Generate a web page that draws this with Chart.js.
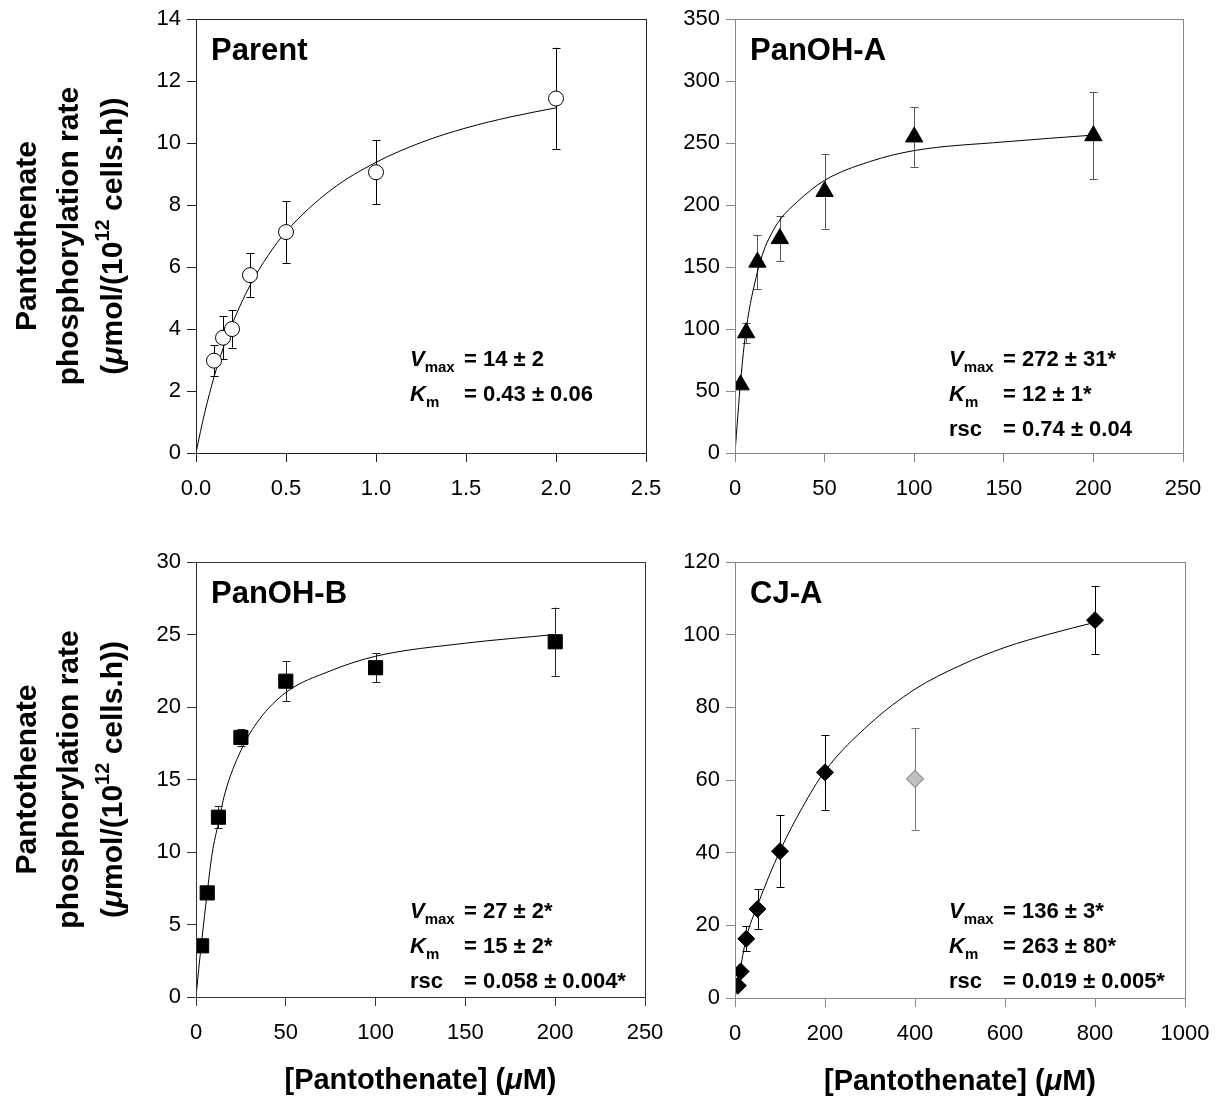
<!DOCTYPE html>
<html>
<head>
<meta charset="utf-8">
<script src="https://cdn.jsdelivr.net/npm/chart.js@4.4.1/dist/chart.umd.min.js"></script>
<style>
  body { margin: 0; background: #fff; }
  #figure { position: relative; width: 1225px; height: 1106px; }
  .panel { position: absolute; }
</style>
</head>
<body>
<div id="figure">
  <div class="panel" style="left:0;top:0;width:680px;height:530px"><canvas id="parentChart"></canvas></div>
  <div class="panel" style="left:680px;top:0;width:545px;height:530px"><canvas id="panOHAChart"></canvas></div>
  <div class="panel" style="left:0;top:530px;width:680px;height:576px"><canvas id="panOHBChart"></canvas></div>
  <div class="panel" style="left:680px;top:530px;width:545px;height:576px"><canvas id="cjAChart"></canvas></div>
</div>
<script>
// Parent
const parentConc = [0.1, 0.15, 0.2, 0.3, 0.5, 1.0, 2.0];
const parentRate = [2.98, 3.72, 4.0, 5.74, 7.13, 9.06, 11.44];
const parentErr = [0.5, 0.7, 0.6, 0.7, 1.0, 1.03, 1.64];
const parentFitConc = [0, 0.025, 0.05, 0.1, 0.15, 0.2, 0.3, 0.4, 0.5, 0.75, 1.0, 1.25, 1.5, 1.75, 2.0];
const parentFitRate = [0, 0.7, 1.34, 2.45, 3.37, 4.15, 5.41, 6.37, 7.14, 8.49, 9.38, 10.02, 10.49, 10.85, 11.14];
const parentXTicks = [0, 0.5, 1.0, 1.5, 2.0, 2.5];
const parentYTicks = [0, 2, 4, 6, 8, 10, 12, 14];

// PanOH-A
const panOHAConc = [3.125, 6.25, 12.5, 25, 50, 100, 200];
const panOHARate = [55, 97, 154, 173, 211, 255, 256];
const panOHAErr = [0, 8, 22, 18, 30, 24, 35];
const panOHAFitConc = [0, 3.125, 6.25, 12.5, 16, 20, 25, 35, 50, 75, 100, 150, 200];
const panOHAFitRate = [0, 58, 100, 146, 163, 176, 188, 203, 220, 235, 244, 251, 256.5];
const panOHAXTicks = [0, 50, 100, 150, 200, 250];
const panOHAYTicks = [0, 50, 100, 150, 200, 250, 300, 350];

// PanOH-B
const panOHBConc = [3.125, 6.25, 12.5, 25, 50, 100, 200];
const panOHBRate = [3.53, 7.18, 12.4, 17.9, 21.78, 22.71, 24.5];
const panOHBErr = [0, 0, 0.76, 0.57, 1.38, 0.99, 2.36];
const panOHBFitConc = [0, 1.5, 3.125, 6.25, 9, 12.5, 16, 25, 35, 50, 75, 100, 150, 200];
const panOHBFitRate = [0, 1.9, 3.8, 7.2, 9.9, 12.0, 14.0, 17.0, 19.1, 21.0, 22.5, 23.5, 24.4, 25.0];
const panOHBXTicks = [0, 50, 100, 150, 200, 250];
const panOHBYTicks = [0, 5, 10, 15, 20, 25, 30];

// CJ-A (the 400 uM point is the grey outlier)
const cjAConc = [6.25, 12.5, 25, 50, 100, 200, 400, 800];
const cjARate = [3.4, 7.3, 16.3, 24.5, 40.4, 62.1, 60.3, 104];
const cjAErr = [0, 0, 3.5, 5.5, 9.9, 10.3, 14, 9.4];
const cjAFitConc = [0, 6.25, 12.5, 25, 50, 100, 150, 200, 300, 400, 500, 600, 700, 800];
const cjAFitRate = [0, 4.3, 8.5, 16.5, 25.5, 40.5, 52.5, 62.5, 75.5, 85, 91.5, 96.5, 100.2, 103.4];
const cjAXTicks = [0, 200, 400, 600, 800, 1000];
const cjAYTicks = [0, 20, 40, 60, 80, 100, 120];

const FONT = "'Liberation Sans', Arial, sans-serif";
const B22 = 'bold 22px ' + FONT;
const BI22 = 'italic bold 22px ' + FONT;
const B15 = 'bold 15px ' + FONT;
const B30 = 'bold 30px ' + FONT;

const vRow = value => [[['V', BI22], ['max', B15, 6]], value];
const kRow = value => [[['K', BI22], ['m', B15, 6]], value];
const rRow = value => [[['rsc', B22]], value];

function drawRuns(ctx, x, y, runs, align) {
    let w = 0;
    runs.forEach(r => { ctx.font = r[1]; w += ctx.measureText(r[0]).width; });
    let cx = align === 'center' ? x - w / 2 : x;
    runs.forEach(r => {
        ctx.font = r[1];
        ctx.fillText(r[0], cx, y + (r[2] || 0));
        cx += ctx.measureText(r[0]).width;
    });
}

function decorPlugin(p) {
    return {
        id: 'decor',
        beforeDatasetsDraw(chart) {
            const { ctx, scales: { x, y } } = chart;
            ctx.save();
            ctx.lineWidth = 1;
            p.conc.forEach((c, i) => {
                const e = p.err[i];
                if (!e) return;
                const px = Math.round(x.getPixelForValue(c)) + 0.5;
                const top = y.getPixelForValue(p.rate[i] + e);
                const bot = y.getPixelForValue(p.rate[i] - e);
                ctx.strokeStyle = Array.isArray(p.errColor) ? p.errColor[i] : p.errColor;
                ctx.beginPath();
                ctx.moveTo(px, top);
                ctx.lineTo(px, bot);
                ctx.moveTo(px - 4, Math.round(top) + 0.5);
                ctx.lineTo(px + 4, Math.round(top) + 0.5);
                ctx.moveTo(px - 4, Math.round(bot) + 0.5);
                ctx.lineTo(px + 4, Math.round(bot) + 0.5);
                ctx.stroke();
            });
            ctx.restore();
        },
        afterDraw(chart) {
            const { ctx, chartArea: a } = chart;
            ctx.save();
            // frame
            ctx.strokeStyle = p.frame;
            ctx.lineWidth = 1;
            ctx.strokeRect(Math.round(a.left) + 0.5, Math.round(a.top) + 0.5,
                Math.round(a.right - a.left), Math.round(a.bottom - a.top));
            ctx.fillStyle = '#000';
            // panel name
            ctx.textBaseline = 'middle';
            ctx.font = 'bold 31px ' + FONT;
            ctx.fillText(p.name, a.left + 15, a.top + 32);
            // fit parameters
            ctx.textBaseline = 'alphabetic';
            p.stats.forEach((row, i) => {
                const by = a.top + p.statTop + i * 35;
                drawRuns(ctx, a.left + 214, by, row[0], 'left');
                ctx.font = B22;
                ctx.fillText(row[1], a.left + 268, by);
            });
            // y axis title
            if (p.yTitle) {
                const cy = (a.top + a.bottom) / 2;
                const lines = [
                    [[['Pantothenate', B30]], 28],
                    [[['phosphorylation rate', B30]], 70],
                    [[['(', B30], ['\u03bc', 'italic bold 30px ' + FONT],
                      ['mol/(10', B30], ['12', 'bold 20px ' + FONT, -11],
                      [' cells.h))', B30]], 114]
                ];
                lines.forEach(l => {
                    ctx.save();
                    ctx.translate(l[1], cy);
                    ctx.rotate(-Math.PI / 2);
                    ctx.textBaseline = 'middle';
                    drawRuns(ctx, 0, 0, l[0], 'center');
                    ctx.restore();
                });
            }
            // x axis title
            if (p.xTitle) {
                ctx.textBaseline = 'middle';
                drawRuns(ctx, (a.left + a.right) / 2, a.bottom + 84, [
                    ['[Pantothenate] (', 'bold 29px ' + FONT],
                    ['\u03bc', 'italic bold 29px ' + FONT],
                    ['M)', 'bold 29px ' + FONT]
                ], 'center');
            }
            ctx.restore();
        }
    };
}

function buildPanel(id, p) {
    const tickAxis = (ticks, fmt, fitFn, pad) => ({
        type: 'linear',
        min: ticks[0],
        max: ticks[ticks.length - 1],
        afterBuildTicks: s => { s.ticks = ticks.map(v => ({ value: v })); },
        afterFit: fitFn,
        border: { display: false },
        grid: { drawOnChartArea: false, drawTicks: true, tickLength: 9, tickColor: p.frame, color: p.frame },
        ticks: {
            color: '#000',
            font: { family: FONT, size: 22 },
            padding: pad,
            maxRotation: 0,
            autoSkip: false,
            callback: fmt
        }
    });
    return new Chart(document.getElementById(id), {
        type: 'scatter',
        data: {
            datasets: [
                {
                    data: p.conc.map((c, i) => ({ x: c, y: p.rate[i] })),
                    pointStyle: p.marker,
                    pointRadius: p.radius,
                    pointBackgroundColor: p.fill,
                    pointBorderColor: p.stroke,
                    pointBorderWidth: 1,
                    showLine: false
                },
                {
                    data: p.fitConc.map((c, i) => ({ x: c, y: p.fitRate[i] })),
                    showLine: true,
                    pointRadius: 0,
                    borderColor: '#000',
                    borderWidth: 1,
                    cubicInterpolationMode: 'monotone'
                }
            ]
        },
        options: {
            responsive: true,
            maintainAspectRatio: false,
            animation: false,
            events: [],
            layout: { padding: { left: 0, top: p.area[1], right: p.size[0] - p.area[2], bottom: 0 } },
            plugins: { legend: { display: false }, tooltip: { enabled: false } },
            scales: {
                x: tickAxis(p.xTicks, p.xFmt, s => { s.height = p.size[1] - p.area[3]; }, 14),
                y: tickAxis(p.yTicks, v => String(v), s => { s.width = p.area[0]; }, 6)
            }
        },
        plugins: [decorPlugin(p)]
    });
}

buildPanel('parentChart', {
    conc: parentConc, rate: parentRate, err: parentErr,
    fitConc: parentFitConc, fitRate: parentFitRate,
    xTicks: parentXTicks, yTicks: parentYTicks,
    xFmt: v => v.toFixed(1),
    size: [680, 530], area: [196, 19, 646, 453],
    marker: 'circle', radius: 7.5, fill: '#fff', stroke: '#000',
    errColor: '#000', frame: '#222',
    name: 'Parent', statTop: 347,
    stats: [vRow('= 14 \u00b1 2'), kRow('= 0.43 \u00b1 0.06')],
    yTitle: true, xTitle: false
});

buildPanel('panOHAChart', {
    conc: panOHAConc, rate: panOHARate, err: panOHAErr,
    fitConc: panOHAFitConc, fitRate: panOHAFitRate,
    xTicks: panOHAXTicks, yTicks: panOHAYTicks,
    xFmt: v => String(v),
    size: [545, 530], area: [55, 18, 503, 453],
    marker: 'triangle', radius: 10, fill: '#000', stroke: '#000',
    errColor: '#555', frame: '#888',
    name: 'PanOH-A', statTop: 347,
    stats: [vRow('= 272 \u00b1 31*'), kRow('= 12 \u00b1 1*'), rRow('= 0.74 \u00b1 0.04')],
    yTitle: false, xTitle: false
});

buildPanel('panOHBChart', {
    conc: panOHBConc, rate: panOHBRate, err: panOHBErr,
    fitConc: panOHBFitConc, fitRate: panOHBFitRate,
    xTicks: panOHBXTicks, yTicks: panOHBYTicks,
    xFmt: v => String(v),
    size: [680, 576], area: [196, 32, 645, 467],
    marker: 'rect', radius: 10, fill: '#000', stroke: '#000',
    errColor: '#222', frame: '#333',
    name: 'PanOH-B', statTop: 356,
    stats: [vRow('= 27 \u00b1 2*'), kRow('= 15 \u00b1 2*'), rRow('= 0.058 \u00b1 0.004*')],
    yTitle: true, xTitle: true
});

buildPanel('cjAChart', {
    conc: cjAConc, rate: cjARate, err: cjAErr,
    fitConc: cjAFitConc, fitRate: cjAFitRate,
    xTicks: cjAXTicks, yTicks: cjAYTicks,
    xFmt: v => String(v),
    size: [545, 576], area: [55, 32, 505, 468],
    marker: 'rectRot', radius: 8.5,
    fill: ['#000', '#000', '#000', '#000', '#000', '#000', '#c0c0c0', '#000'],
    stroke: ['#000', '#000', '#000', '#000', '#000', '#000', '#666', '#000'],
    errColor: ['#000', '#000', '#000', '#000', '#000', '#000', '#777', '#000'],
    frame: '#888',
    name: 'CJ-A', statTop: 356,
    stats: [vRow('= 136 \u00b1 3*'), kRow('= 263 \u00b1 80*'), rRow('= 0.019 \u00b1 0.005*')],
    yTitle: false, xTitle: true
});
</script>
</body>
</html>
